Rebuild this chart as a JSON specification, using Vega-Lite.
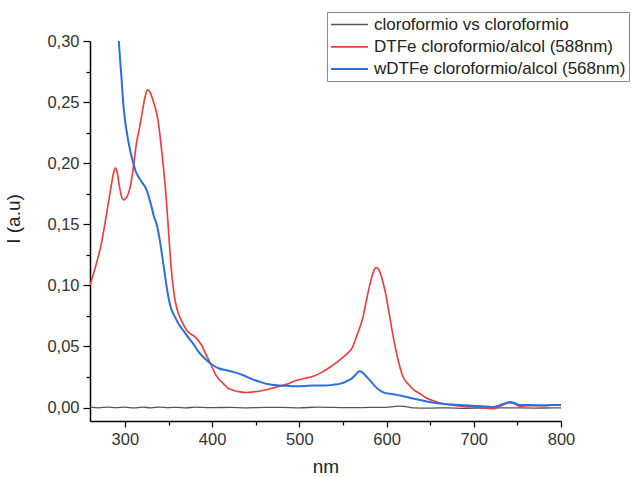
{
  "$schema": "https://vega.github.io/schema/vega-lite/v6.json",
  "width": 471,
  "height": 380,
  "autosize": {"type": "none"},
  "padding": {"left": 90, "top": 41, "right": 70, "bottom": 56},
  "background": "white",
  "config": {
    "view": {"stroke": null},
    "font": "Liberation Sans",
    "axis": {
      "grid": false,
      "domainColor": "#000",
      "domainWidth": 1.5,
      "tickColor": "#000",
      "tickWidth": 1.2,
      "labelFont": "Liberation Sans",
      "labelFontSize": 16.5,
      "labelColor": "#333",
      "titleFont": "Liberation Sans",
      "titleFontSize": 19,
      "titleFontWeight": "normal",
      "titleColor": "#222",
      "labelOverlap": false
    }
  },
  "data": {
    "values": [
      {"x": 260, "y": 0.0003, "s": "cloroformio vs cloroformio"},
      {"x": 270, "y": -0.0002, "s": "cloroformio vs cloroformio"},
      {"x": 280, "y": 0.0004, "s": "cloroformio vs cloroformio"},
      {"x": 290, "y": 0.0, "s": "cloroformio vs cloroformio"},
      {"x": 300, "y": 0.0003, "s": "cloroformio vs cloroformio"},
      {"x": 310, "y": -0.0003, "s": "cloroformio vs cloroformio"},
      {"x": 320, "y": 0.0003, "s": "cloroformio vs cloroformio"},
      {"x": 330, "y": -0.0002, "s": "cloroformio vs cloroformio"},
      {"x": 340, "y": 0.0004, "s": "cloroformio vs cloroformio"},
      {"x": 350, "y": 0.0, "s": "cloroformio vs cloroformio"},
      {"x": 360, "y": 0.0002, "s": "cloroformio vs cloroformio"},
      {"x": 370, "y": -0.0002, "s": "cloroformio vs cloroformio"},
      {"x": 380, "y": 0.0003, "s": "cloroformio vs cloroformio"},
      {"x": 390, "y": 0.0001, "s": "cloroformio vs cloroformio"},
      {"x": 400, "y": -0.0001, "s": "cloroformio vs cloroformio"},
      {"x": 420, "y": 0.0002, "s": "cloroformio vs cloroformio"},
      {"x": 440, "y": -0.0002, "s": "cloroformio vs cloroformio"},
      {"x": 460, "y": 0.0001, "s": "cloroformio vs cloroformio"},
      {"x": 480, "y": 0.0002, "s": "cloroformio vs cloroformio"},
      {"x": 500, "y": -0.0002, "s": "cloroformio vs cloroformio"},
      {"x": 520, "y": 0.0003, "s": "cloroformio vs cloroformio"},
      {"x": 540, "y": 0.0001, "s": "cloroformio vs cloroformio"},
      {"x": 560, "y": -0.0001, "s": "cloroformio vs cloroformio"},
      {"x": 580, "y": 0.0001, "s": "cloroformio vs cloroformio"},
      {"x": 600, "y": 0.0002, "s": "cloroformio vs cloroformio"},
      {"x": 608, "y": 0.0008, "s": "cloroformio vs cloroformio"},
      {"x": 615, "y": 0.0012, "s": "cloroformio vs cloroformio"},
      {"x": 622, "y": 0.0008, "s": "cloroformio vs cloroformio"},
      {"x": 630, "y": -0.0002, "s": "cloroformio vs cloroformio"},
      {"x": 650, "y": -0.0004, "s": "cloroformio vs cloroformio"},
      {"x": 670, "y": -0.0003, "s": "cloroformio vs cloroformio"},
      {"x": 690, "y": -0.0006, "s": "cloroformio vs cloroformio"},
      {"x": 710, "y": -0.0004, "s": "cloroformio vs cloroformio"},
      {"x": 730, "y": -0.0002, "s": "cloroformio vs cloroformio"},
      {"x": 750, "y": -0.0003, "s": "cloroformio vs cloroformio"},
      {"x": 770, "y": -0.0004, "s": "cloroformio vs cloroformio"},
      {"x": 790, "y": -0.0003, "s": "cloroformio vs cloroformio"},
      {"x": 800, "y": -0.0003, "s": "cloroformio vs cloroformio"},

      {"x": 260, "y": 0.100, "s": "DTFe cloroformio/alcol (588nm)"},
      {"x": 265, "y": 0.112, "s": "DTFe cloroformio/alcol (588nm)"},
      {"x": 270, "y": 0.125, "s": "DTFe cloroformio/alcol (588nm)"},
      {"x": 273, "y": 0.134, "s": "DTFe cloroformio/alcol (588nm)"},
      {"x": 277, "y": 0.150, "s": "DTFe cloroformio/alcol (588nm)"},
      {"x": 280, "y": 0.163, "s": "DTFe cloroformio/alcol (588nm)"},
      {"x": 284, "y": 0.180, "s": "DTFe cloroformio/alcol (588nm)"},
      {"x": 287, "y": 0.192, "s": "DTFe cloroformio/alcol (588nm)"},
      {"x": 289, "y": 0.196, "s": "DTFe cloroformio/alcol (588nm)"},
      {"x": 291, "y": 0.193, "s": "DTFe cloroformio/alcol (588nm)"},
      {"x": 294, "y": 0.180, "s": "DTFe cloroformio/alcol (588nm)"},
      {"x": 297, "y": 0.171, "s": "DTFe cloroformio/alcol (588nm)"},
      {"x": 299, "y": 0.170, "s": "DTFe cloroformio/alcol (588nm)"},
      {"x": 302, "y": 0.172, "s": "DTFe cloroformio/alcol (588nm)"},
      {"x": 306, "y": 0.180, "s": "DTFe cloroformio/alcol (588nm)"},
      {"x": 310, "y": 0.198, "s": "DTFe cloroformio/alcol (588nm)"},
      {"x": 313, "y": 0.215, "s": "DTFe cloroformio/alcol (588nm)"},
      {"x": 317, "y": 0.230, "s": "DTFe cloroformio/alcol (588nm)"},
      {"x": 320, "y": 0.242, "s": "DTFe cloroformio/alcol (588nm)"},
      {"x": 323, "y": 0.254, "s": "DTFe cloroformio/alcol (588nm)"},
      {"x": 326, "y": 0.260, "s": "DTFe cloroformio/alcol (588nm)"},
      {"x": 329, "y": 0.258, "s": "DTFe cloroformio/alcol (588nm)"},
      {"x": 332, "y": 0.252, "s": "DTFe cloroformio/alcol (588nm)"},
      {"x": 335, "y": 0.245, "s": "DTFe cloroformio/alcol (588nm)"},
      {"x": 338, "y": 0.235, "s": "DTFe cloroformio/alcol (588nm)"},
      {"x": 341, "y": 0.218, "s": "DTFe cloroformio/alcol (588nm)"},
      {"x": 344, "y": 0.198, "s": "DTFe cloroformio/alcol (588nm)"},
      {"x": 347, "y": 0.175, "s": "DTFe cloroformio/alcol (588nm)"},
      {"x": 350, "y": 0.145, "s": "DTFe cloroformio/alcol (588nm)"},
      {"x": 353, "y": 0.115, "s": "DTFe cloroformio/alcol (588nm)"},
      {"x": 357, "y": 0.090, "s": "DTFe cloroformio/alcol (588nm)"},
      {"x": 360, "y": 0.080, "s": "DTFe cloroformio/alcol (588nm)"},
      {"x": 363, "y": 0.074, "s": "DTFe cloroformio/alcol (588nm)"},
      {"x": 367, "y": 0.068, "s": "DTFe cloroformio/alcol (588nm)"},
      {"x": 371, "y": 0.063, "s": "DTFe cloroformio/alcol (588nm)"},
      {"x": 376, "y": 0.060, "s": "DTFe cloroformio/alcol (588nm)"},
      {"x": 380, "y": 0.058, "s": "DTFe cloroformio/alcol (588nm)"},
      {"x": 384, "y": 0.055, "s": "DTFe cloroformio/alcol (588nm)"},
      {"x": 388, "y": 0.051, "s": "DTFe cloroformio/alcol (588nm)"},
      {"x": 392, "y": 0.045, "s": "DTFe cloroformio/alcol (588nm)"},
      {"x": 396, "y": 0.039, "s": "DTFe cloroformio/alcol (588nm)"},
      {"x": 400, "y": 0.033, "s": "DTFe cloroformio/alcol (588nm)"},
      {"x": 404, "y": 0.027, "s": "DTFe cloroformio/alcol (588nm)"},
      {"x": 408, "y": 0.023, "s": "DTFe cloroformio/alcol (588nm)"},
      {"x": 413, "y": 0.0196, "s": "DTFe cloroformio/alcol (588nm)"},
      {"x": 418, "y": 0.016, "s": "DTFe cloroformio/alcol (588nm)"},
      {"x": 424, "y": 0.0142, "s": "DTFe cloroformio/alcol (588nm)"},
      {"x": 432, "y": 0.0128, "s": "DTFe cloroformio/alcol (588nm)"},
      {"x": 440, "y": 0.0123, "s": "DTFe cloroformio/alcol (588nm)"},
      {"x": 447, "y": 0.0128, "s": "DTFe cloroformio/alcol (588nm)"},
      {"x": 455, "y": 0.0136, "s": "DTFe cloroformio/alcol (588nm)"},
      {"x": 465, "y": 0.015, "s": "DTFe cloroformio/alcol (588nm)"},
      {"x": 474, "y": 0.0169, "s": "DTFe cloroformio/alcol (588nm)"},
      {"x": 485, "y": 0.019, "s": "DTFe cloroformio/alcol (588nm)"},
      {"x": 497, "y": 0.0223, "s": "DTFe cloroformio/alcol (588nm)"},
      {"x": 507, "y": 0.024, "s": "DTFe cloroformio/alcol (588nm)"},
      {"x": 516, "y": 0.0256, "s": "DTFe cloroformio/alcol (588nm)"},
      {"x": 526, "y": 0.029, "s": "DTFe cloroformio/alcol (588nm)"},
      {"x": 535, "y": 0.033, "s": "DTFe cloroformio/alcol (588nm)"},
      {"x": 543, "y": 0.037, "s": "DTFe cloroformio/alcol (588nm)"},
      {"x": 550, "y": 0.041, "s": "DTFe cloroformio/alcol (588nm)"},
      {"x": 556, "y": 0.045, "s": "DTFe cloroformio/alcol (588nm)"},
      {"x": 560, "y": 0.048, "s": "DTFe cloroformio/alcol (588nm)"},
      {"x": 565, "y": 0.057, "s": "DTFe cloroformio/alcol (588nm)"},
      {"x": 570, "y": 0.067, "s": "DTFe cloroformio/alcol (588nm)"},
      {"x": 573, "y": 0.074, "s": "DTFe cloroformio/alcol (588nm)"},
      {"x": 577, "y": 0.088, "s": "DTFe cloroformio/alcol (588nm)"},
      {"x": 581, "y": 0.101, "s": "DTFe cloroformio/alcol (588nm)"},
      {"x": 585, "y": 0.111, "s": "DTFe cloroformio/alcol (588nm)"},
      {"x": 588, "y": 0.1146, "s": "DTFe cloroformio/alcol (588nm)"},
      {"x": 591, "y": 0.113, "s": "DTFe cloroformio/alcol (588nm)"},
      {"x": 595, "y": 0.105, "s": "DTFe cloroformio/alcol (588nm)"},
      {"x": 599, "y": 0.093, "s": "DTFe cloroformio/alcol (588nm)"},
      {"x": 603, "y": 0.077, "s": "DTFe cloroformio/alcol (588nm)"},
      {"x": 607, "y": 0.0605, "s": "DTFe cloroformio/alcol (588nm)"},
      {"x": 611, "y": 0.046, "s": "DTFe cloroformio/alcol (588nm)"},
      {"x": 615, "y": 0.034, "s": "DTFe cloroformio/alcol (588nm)"},
      {"x": 619, "y": 0.025, "s": "DTFe cloroformio/alcol (588nm)"},
      {"x": 625, "y": 0.019, "s": "DTFe cloroformio/alcol (588nm)"},
      {"x": 632, "y": 0.014, "s": "DTFe cloroformio/alcol (588nm)"},
      {"x": 638, "y": 0.0115, "s": "DTFe cloroformio/alcol (588nm)"},
      {"x": 645, "y": 0.008, "s": "DTFe cloroformio/alcol (588nm)"},
      {"x": 652, "y": 0.006, "s": "DTFe cloroformio/alcol (588nm)"},
      {"x": 660, "y": 0.004, "s": "DTFe cloroformio/alcol (588nm)"},
      {"x": 669, "y": 0.0027, "s": "DTFe cloroformio/alcol (588nm)"},
      {"x": 680, "y": 0.0015, "s": "DTFe cloroformio/alcol (588nm)"},
      {"x": 690, "y": 0.0008, "s": "DTFe cloroformio/alcol (588nm)"},
      {"x": 700, "y": 0.0004, "s": "DTFe cloroformio/alcol (588nm)"},
      {"x": 710, "y": 0.0, "s": "DTFe cloroformio/alcol (588nm)"},
      {"x": 722, "y": -0.001, "s": "DTFe cloroformio/alcol (588nm)"},
      {"x": 730, "y": 0.001, "s": "DTFe cloroformio/alcol (588nm)"},
      {"x": 736, "y": 0.003, "s": "DTFe cloroformio/alcol (588nm)"},
      {"x": 742, "y": 0.004, "s": "DTFe cloroformio/alcol (588nm)"},
      {"x": 747, "y": 0.003, "s": "DTFe cloroformio/alcol (588nm)"},
      {"x": 753, "y": 0.001, "s": "DTFe cloroformio/alcol (588nm)"},
      {"x": 765, "y": 0.0015, "s": "DTFe cloroformio/alcol (588nm)"},
      {"x": 780, "y": 0.0015, "s": "DTFe cloroformio/alcol (588nm)"},
      {"x": 790, "y": 0.002, "s": "DTFe cloroformio/alcol (588nm)"},
      {"x": 800, "y": 0.002, "s": "DTFe cloroformio/alcol (588nm)"},

      {"x": 291, "y": 0.325, "s": "wDTFe cloroformio/alcol (568nm)"},
      {"x": 293, "y": 0.300, "s": "wDTFe cloroformio/alcol (568nm)"},
      {"x": 295, "y": 0.280, "s": "wDTFe cloroformio/alcol (568nm)"},
      {"x": 296.5, "y": 0.266, "s": "wDTFe cloroformio/alcol (568nm)"},
      {"x": 298, "y": 0.250, "s": "wDTFe cloroformio/alcol (568nm)"},
      {"x": 300, "y": 0.236, "s": "wDTFe cloroformio/alcol (568nm)"},
      {"x": 303, "y": 0.222, "s": "wDTFe cloroformio/alcol (568nm)"},
      {"x": 306, "y": 0.2106, "s": "wDTFe cloroformio/alcol (568nm)"},
      {"x": 309.7, "y": 0.200, "s": "wDTFe cloroformio/alcol (568nm)"},
      {"x": 312, "y": 0.194, "s": "wDTFe cloroformio/alcol (568nm)"},
      {"x": 315.4, "y": 0.189, "s": "wDTFe cloroformio/alcol (568nm)"},
      {"x": 318, "y": 0.186, "s": "wDTFe cloroformio/alcol (568nm)"},
      {"x": 321, "y": 0.183, "s": "wDTFe cloroformio/alcol (568nm)"},
      {"x": 325, "y": 0.178, "s": "wDTFe cloroformio/alcol (568nm)"},
      {"x": 328, "y": 0.171, "s": "wDTFe cloroformio/alcol (568nm)"},
      {"x": 330.7, "y": 0.164, "s": "wDTFe cloroformio/alcol (568nm)"},
      {"x": 333, "y": 0.157, "s": "wDTFe cloroformio/alcol (568nm)"},
      {"x": 336.4, "y": 0.150, "s": "wDTFe cloroformio/alcol (568nm)"},
      {"x": 340, "y": 0.137, "s": "wDTFe cloroformio/alcol (568nm)"},
      {"x": 344, "y": 0.118, "s": "wDTFe cloroformio/alcol (568nm)"},
      {"x": 347, "y": 0.103, "s": "wDTFe cloroformio/alcol (568nm)"},
      {"x": 350, "y": 0.090, "s": "wDTFe cloroformio/alcol (568nm)"},
      {"x": 353, "y": 0.081, "s": "wDTFe cloroformio/alcol (568nm)"},
      {"x": 357.5, "y": 0.074, "s": "wDTFe cloroformio/alcol (568nm)"},
      {"x": 362, "y": 0.068, "s": "wDTFe cloroformio/alcol (568nm)"},
      {"x": 367, "y": 0.063, "s": "wDTFe cloroformio/alcol (568nm)"},
      {"x": 372, "y": 0.058, "s": "wDTFe cloroformio/alcol (568nm)"},
      {"x": 378.5, "y": 0.052, "s": "wDTFe cloroformio/alcol (568nm)"},
      {"x": 384, "y": 0.046, "s": "wDTFe cloroformio/alcol (568nm)"},
      {"x": 390, "y": 0.0414, "s": "wDTFe cloroformio/alcol (568nm)"},
      {"x": 395, "y": 0.038, "s": "wDTFe cloroformio/alcol (568nm)"},
      {"x": 401, "y": 0.0346, "s": "wDTFe cloroformio/alcol (568nm)"},
      {"x": 408, "y": 0.032, "s": "wDTFe cloroformio/alcol (568nm)"},
      {"x": 416.7, "y": 0.0305, "s": "wDTFe cloroformio/alcol (568nm)"},
      {"x": 425, "y": 0.029, "s": "wDTFe cloroformio/alcol (568nm)"},
      {"x": 435.8, "y": 0.0264, "s": "wDTFe cloroformio/alcol (568nm)"},
      {"x": 445, "y": 0.0235, "s": "wDTFe cloroformio/alcol (568nm)"},
      {"x": 455, "y": 0.021, "s": "wDTFe cloroformio/alcol (568nm)"},
      {"x": 465, "y": 0.019, "s": "wDTFe cloroformio/alcol (568nm)"},
      {"x": 474, "y": 0.0182, "s": "wDTFe cloroformio/alcol (568nm)"},
      {"x": 485, "y": 0.0178, "s": "wDTFe cloroformio/alcol (568nm)"},
      {"x": 497, "y": 0.0174, "s": "wDTFe cloroformio/alcol (568nm)"},
      {"x": 505, "y": 0.0176, "s": "wDTFe cloroformio/alcol (568nm)"},
      {"x": 516, "y": 0.018, "s": "wDTFe cloroformio/alcol (568nm)"},
      {"x": 530, "y": 0.018, "s": "wDTFe cloroformio/alcol (568nm)"},
      {"x": 540, "y": 0.0188, "s": "wDTFe cloroformio/alcol (568nm)"},
      {"x": 547, "y": 0.0196, "s": "wDTFe cloroformio/alcol (568nm)"},
      {"x": 553, "y": 0.021, "s": "wDTFe cloroformio/alcol (568nm)"},
      {"x": 557, "y": 0.0225, "s": "wDTFe cloroformio/alcol (568nm)"},
      {"x": 560, "y": 0.0237, "s": "wDTFe cloroformio/alcol (568nm)"},
      {"x": 564, "y": 0.0265, "s": "wDTFe cloroformio/alcol (568nm)"},
      {"x": 568.8, "y": 0.0297, "s": "wDTFe cloroformio/alcol (568nm)"},
      {"x": 572, "y": 0.029, "s": "wDTFe cloroformio/alcol (568nm)"},
      {"x": 576, "y": 0.026, "s": "wDTFe cloroformio/alcol (568nm)"},
      {"x": 581, "y": 0.0223, "s": "wDTFe cloroformio/alcol (568nm)"},
      {"x": 586, "y": 0.018, "s": "wDTFe cloroformio/alcol (568nm)"},
      {"x": 592, "y": 0.0142, "s": "wDTFe cloroformio/alcol (568nm)"},
      {"x": 598, "y": 0.012, "s": "wDTFe cloroformio/alcol (568nm)"},
      {"x": 607.8, "y": 0.0109, "s": "wDTFe cloroformio/alcol (568nm)"},
      {"x": 618, "y": 0.0095, "s": "wDTFe cloroformio/alcol (568nm)"},
      {"x": 630, "y": 0.0074, "s": "wDTFe cloroformio/alcol (568nm)"},
      {"x": 645, "y": 0.0052, "s": "wDTFe cloroformio/alcol (568nm)"},
      {"x": 661, "y": 0.0033, "s": "wDTFe cloroformio/alcol (568nm)"},
      {"x": 675, "y": 0.0025, "s": "wDTFe cloroformio/alcol (568nm)"},
      {"x": 692, "y": 0.0019, "s": "wDTFe cloroformio/alcol (568nm)"},
      {"x": 705, "y": 0.0012, "s": "wDTFe cloroformio/alcol (568nm)"},
      {"x": 715, "y": 0.0008, "s": "wDTFe cloroformio/alcol (568nm)"},
      {"x": 722, "y": 0.0005, "s": "wDTFe cloroformio/alcol (568nm)"},
      {"x": 730, "y": 0.002, "s": "wDTFe cloroformio/alcol (568nm)"},
      {"x": 736, "y": 0.0035, "s": "wDTFe cloroformio/alcol (568nm)"},
      {"x": 742, "y": 0.0046, "s": "wDTFe cloroformio/alcol (568nm)"},
      {"x": 747, "y": 0.0035, "s": "wDTFe cloroformio/alcol (568nm)"},
      {"x": 753, "y": 0.002, "s": "wDTFe cloroformio/alcol (568nm)"},
      {"x": 765, "y": 0.002, "s": "wDTFe cloroformio/alcol (568nm)"},
      {"x": 780, "y": 0.0018, "s": "wDTFe cloroformio/alcol (568nm)"},
      {"x": 790, "y": 0.002, "s": "wDTFe cloroformio/alcol (568nm)"},
      {"x": 800, "y": 0.002, "s": "wDTFe cloroformio/alcol (568nm)"}
    ]
  },
  "mark": {"type": "line", "clip": true, "interpolate": "monotone"},
  "encoding": {
    "x": {
      "field": "x",
      "type": "quantitative",
      "title": "nm",
      "scale": {"domain": [260, 800], "nice": false, "zero": false},
      "axis": {
        "values": [300, 350, 400, 450, 500, 550, 600, 650, 700, 750, 800],
        "labelExpr": "datum.value % 100 == 0 ? datum.label : ''",
        "tickSize": {"condition": {"test": "datum.value % 100 == 0", "value": 6}, "value": 4},
        "labelPadding": 4,
        "labelFlush": false,
        "titlePadding": 10
      }
    },
    "y": {
      "field": "y",
      "type": "quantitative",
      "title": "I (a.u)",
      "scale": {"domain": [-0.011, 0.30], "nice": false, "zero": false},
      "axis": {
        "values": [0, 0.025, 0.05, 0.075, 0.1, 0.125, 0.15, 0.175, 0.2, 0.225, 0.25, 0.275, 0.3],
        "labelExpr": "abs(datum.value * 20 - round(datum.value * 20)) < 0.001 ? replace(format(datum.value, '.2f'), '.', ',') : ''",
        "tickSize": {"condition": {"test": "abs(datum.value * 20 - round(datum.value * 20)) < 0.001", "value": 7}, "value": 4},
        "labelPadding": 4,
        "labelFlush": false,
        "titleX": -71,
        "titleY": 177.5,
        "titleBaseline": "alphabetic"
      }
    },
    "strokeWidth": {
      "field": "s",
      "type": "nominal",
      "sort": null,
      "scale": {
        "domain": ["cloroformio vs cloroformio", "DTFe cloroformio/alcol (588nm)", "wDTFe cloroformio/alcol (568nm)"],
        "range": [1.3, 2, 2]
      },
      "legend": null
    },
    "color": {
      "field": "s",
      "type": "nominal",
      "sort": null,
      "scale": {
        "domain": ["cloroformio vs cloroformio", "DTFe cloroformio/alcol (588nm)", "wDTFe cloroformio/alcol (568nm)"],
        "range": ["#555555", "#f03c3f", "#2b6fdf"]
      },
      "legend": {
        "title": null,
        "orient": "none",
        "legendX": 237,
        "legendY": -29,
        "symbolType": "M -1 0 L 3.35 0",
        "symbolSize": 289,
        "symbolStrokeWidth": 2,
        "labelFont": "Liberation Sans",
        "labelFontSize": 17,
        "labelColor": "#222",
        "labelLimit": 400,
        "labelOffset": 25,
        "rowPadding": 4.3,
        "padding": 3,
        "strokeColor": "#888",
        "fillColor": "white"
      }
    }
  }
}
